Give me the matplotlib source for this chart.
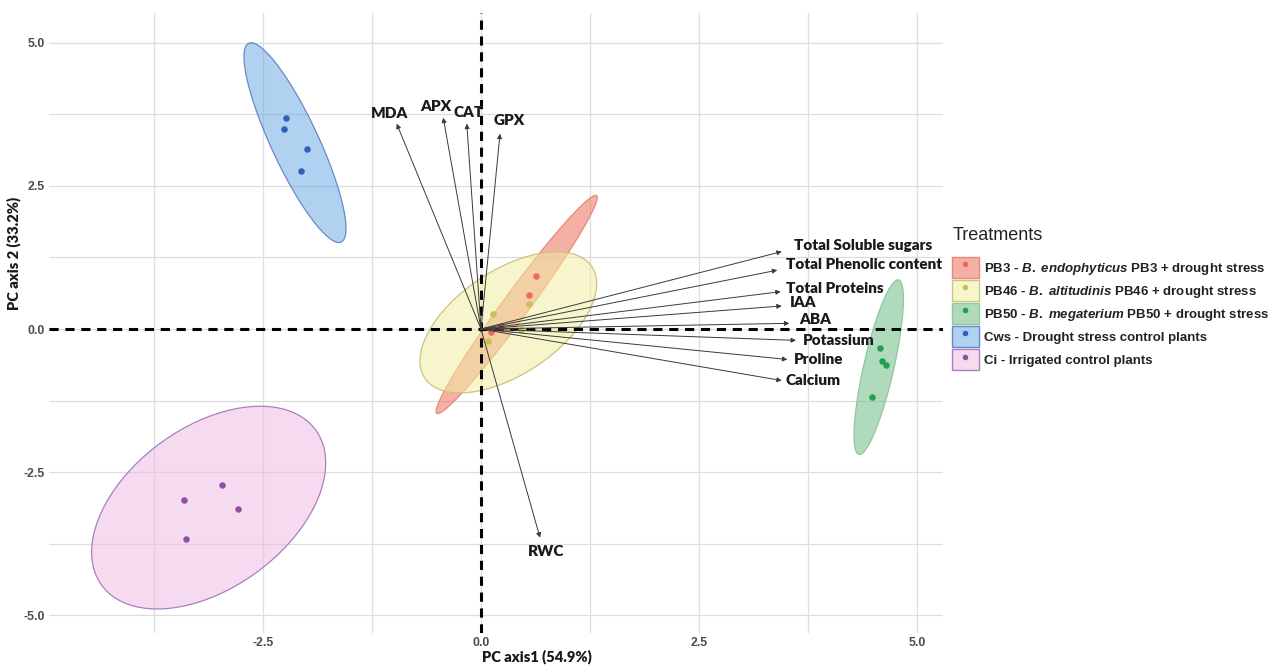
import matplotlib
matplotlib.use('Agg')
import matplotlib.pyplot as plt
import matplotlib.colors as mcolors
import numpy as np
from matplotlib.lines import Line2D
from matplotlib.patches import Rectangle
from matplotlib.legend_handler import HandlerTuple

plt.rcParams['font.family'] = ['Lato', 'DejaVu Sans']
plt.rcParams['mathtext.fontset'] = 'custom'
plt.rcParams['mathtext.rm'] = 'Liberation Sans:bold'
plt.rcParams['mathtext.it'] = 'Liberation Sans:italic:bold'
plt.rcParams['mathtext.bf'] = 'Liberation Sans:bold'

# --- data ---
groups = ['PB3', 'PB46', 'PB50', 'Cws', 'Ci']
legend_labels = [
    r'PB3 - $\mathit{B.}$ $\mathit{endophyticus}$ PB3 + drought stress',
    r'PB46 - $\mathit{B.}$ $\mathit{altitudinis}$ PB46 + drought stress',
    r'PB50 - $\mathit{B.}$ $\mathit{megaterium}$ PB50 + drought stress',
    'Cws - Drought stress control plants',
    'Ci - Irrigated control plants',
]

pb3_pc1 = [0.634, 0.550, 0.230, 0.120]
pb3_pc2 = [0.933, 0.601, 0.060, -0.050]
pb46_pc1 = [0.547, 0.141, 0.084, 0.459]
pb46_pc2 = [0.433, 0.268, -0.215, -0.023]
pb50_pc1 = [4.576, 4.602, 4.644, 4.487]
pb50_pc2 = [-0.338, -0.560, -0.636, -1.179]
cws_pc1 = [-2.240, -2.259, -1.992, -2.061]
cws_pc2 = [3.683, 3.497, 3.135, 2.767]
ci_pc1 = [-2.967, -3.403, -2.790, -3.380]
ci_pc2 = [-2.720, -2.982, -3.140, -3.665]

# ellipse: centre, half extent along pc1 / pc2, correlation
ell_cx = [0.409, 0.313, 4.561, -2.133, -3.123]
ell_cy = [0.429, 0.116, -0.666, 3.254, -3.117]
ell_rx = [0.924, 1.013, 0.283, 0.585, 1.342]
ell_ry = [1.905, 1.231, 1.524, 1.743, 1.769]
ell_rho = [0.98, 0.547, 0.78, -0.86, 0.44]

variables = ['MDA', 'APX', 'CAT', 'GPX', 'Total Soluble sugars',
             'Total Phenolic content', 'Total Proteins', 'IAA', 'ABA',
             'Potassium', 'Proline', 'Calcium', 'RWC']
load_pc1 = [-0.967, -0.433, -0.163, 0.218, 3.449, 3.398, 3.437, 3.449,
            3.536, 3.612, 3.513, 3.449, 0.677]
load_pc2 = [3.585, 3.690, 3.585, 3.410, 1.353, 1.028, 0.653, 0.403,
            0.100, -0.198, -0.531, -0.899, -3.643]

# --- style ---
point_col = ['#F06A5A', '#C8C050', '#22A052', '#2F5FB8', '#9050A8']
fill_col = ['#ED6D5B', '#F2EDA2', '#6FBC85', '#64A4E4', '#EFBCE4']
edge_col = ['#E58A7C', '#CBC47E', '#8CC8A0', '#6A88C8', '#A880C0']
fill_alpha = [0.55, 0.55, 0.55, 0.5, 0.55]
# label offsets from arrow tips (pixels) and alignment
lab_off = [(-7, 10), (-7, 11), (2, 11), (9, 13), (12, 6), (9, 6), (5, 3),
           (8, 3), (10, 4), (7, 0), (7, 0), (4, 0), (6, -14)]
lab_ha = ['center'] * 4 + ['left'] * 8 + ['center']

pcs = [(pb3_pc1, pb3_pc2), (pb46_pc1, pb46_pc2), (pb50_pc1, pb50_pc2),
       (cws_pc1, cws_pc2), (ci_pc1, ci_pc2)]

W, H = 1277, 666
fig = plt.figure(figsize=(W / 100, H / 100), dpi=100)
ax_l, ax_r, ax_t, ax_b = 49, 943, 13, 633
ax = fig.add_axes([ax_l / W, 1 - ax_b / H, (ax_r - ax_l) / W, (ax_b - ax_t) / H])
ax.set_xlim(-4.954, 5.298)
ax.set_ylim(-5.306, 5.517)

ax.set_xticks([-2.5, 0, 2.5, 5.0])
ax.set_xticklabels(['-2.5', '0.0', '2.5', '5.0'])
ax.set_xticks([-3.75, -1.25, 1.25, 3.75], minor=True)
ax.set_yticks([-5.0, -2.5, 0, 2.5, 5.0])
ax.set_yticklabels(['-5.0', '-2.5', '0.0', '2.5', '5.0'])
ax.set_yticks([-3.75, -1.25, 1.25, 3.75], minor=True)
ax.grid(True, which='both', color='#DDDDDD', lw=0.9, zorder=0)
ax.set_axisbelow(True)
for s in ax.spines.values():
    s.set_visible(False)
ax.tick_params(which='both', length=0)
ax.tick_params(axis='y', pad=3)
ax.tick_params(axis='x', pad=3)
for lab in ax.get_xticklabels() + ax.get_yticklabels():
    lab.set_fontfamily('Liberation Sans')
    lab.set_fontweight('bold')
    lab.set_fontsize(8.8)
    lab.set_color('#4D4D4D')

t = np.linspace(0, 2 * np.pi, 300)
for i in range(len(groups)):
    ex = ell_cx[i] + ell_rx[i] * np.cos(t)
    ey = ell_cy[i] + ell_ry[i] * (ell_rho[i] * np.cos(t)
                                  + np.sqrt(1 - ell_rho[i] ** 2) * np.sin(t))
    ax.fill(ex, ey, facecolor=mcolors.to_rgba(fill_col[i], fill_alpha[i]),
            edgecolor=edge_col[i], lw=0.9, zorder=2)

ax.axhline(0, color='black', lw=2.2, ls=(0, (3, 2.2)), zorder=2.5)
ax.axvline(0, color='black', lw=2.2, ls=(0, (3, 2.2)), zorder=2.5)

for i, (px, py) in enumerate(pcs):
    ax.scatter(px, py, s=22, color=point_col[i], zorder=3, linewidths=0)

for i, v in enumerate(variables):
    ax.annotate('', xy=(load_pc1[i], load_pc2[i]), xytext=(0, 0),
                arrowprops=dict(arrowstyle='-|>', color='#3A3A3A', lw=0.7,
                                mutation_scale=7, shrinkA=0, shrinkB=0),
                zorder=4)
    ax.annotate(v, xy=(load_pc1[i], load_pc2[i]), xytext=lab_off[i],
                textcoords='offset pixels', ha=lab_ha[i], va='center',
                fontsize=11, fontweight='heavy', color='#1A1A1A', zorder=5)

fig.text(14 / W, 1 - 253 / H, 'PC axis 2 (33.2%)', rotation=90, ha='center',
         va='center', fontsize=10.5, fontweight='heavy', color='#1A1A1A')
fig.text(537 / W, 1 - 657 / H, 'PC axis1 (54.9%)', ha='center', va='center',
         fontsize=10.5, fontweight='heavy', color='#1A1A1A')

# legend
handles = []
for i in range(len(groups)):
    box = Rectangle((0, 0), 1, 1, facecolor=mcolors.to_rgba(fill_col[i], fill_alpha[i]),
                    edgecolor=edge_col[i], lw=1.0)
    dot = Line2D([], [], ls='none', marker='o', markersize=4,
                 markerfacecolor=point_col[i], markeredgewidth=0)
    handles.append((box, dot))
fig.text(953 / W, 1 - 235 / H, 'Treatments', ha='left', va='center',
         fontsize=13, fontfamily='Liberation Sans', color='#222222')
leg = fig.legend(handles, legend_labels, handler_map={tuple: HandlerTuple(ndivide=1)},
                 loc='upper left', bbox_to_anchor=(951.7 / W, 1 - 257 / H),
                 frameon=False, borderpad=0, borderaxespad=0,
                 handlelength=2.05, handleheight=2.05, labelspacing=0.17,
                 handletextpad=0.43, prop={'family': 'Liberation Sans',
                                           'weight': 'bold', 'size': 9.5})
for txt in leg.get_texts():
    txt.set_color('#222222')

fig.savefig('out.png', dpi=100, facecolor='white')
